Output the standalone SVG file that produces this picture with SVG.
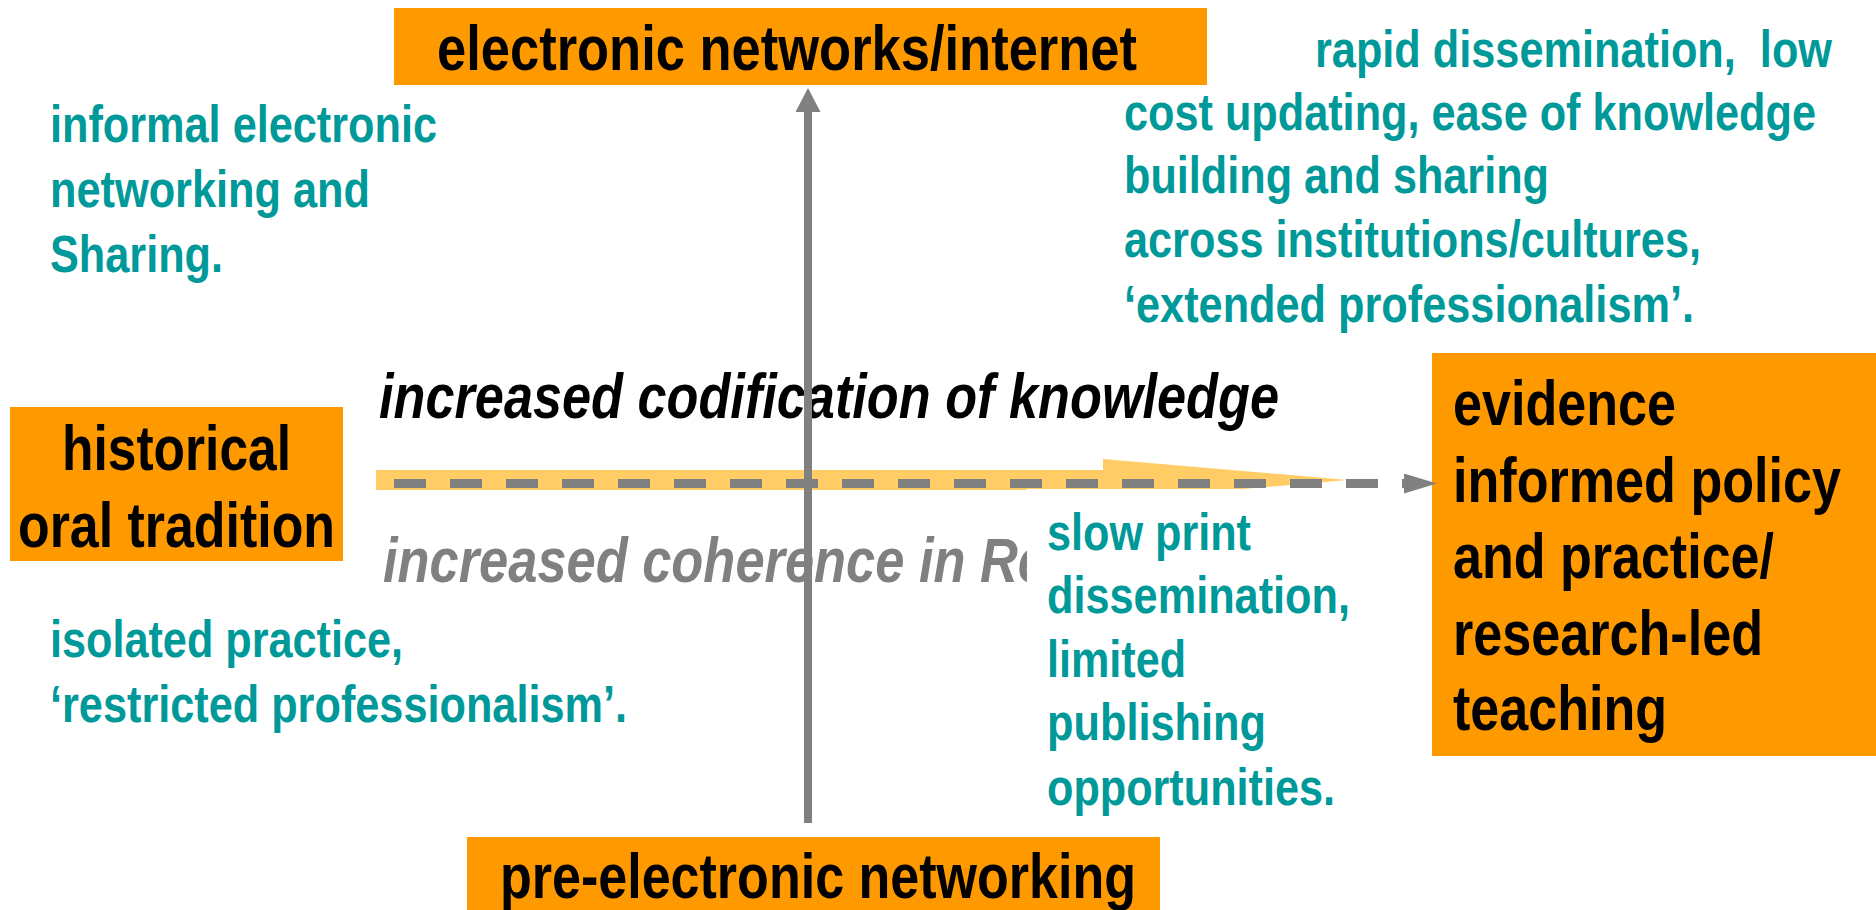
<svg xmlns="http://www.w3.org/2000/svg" width="1876" height="910" viewBox="0 0 1876 910">
  <style>
    .box { fill: #FF9900; }
    .t { font-family: 'Liberation Sans Narrow', 'Liberation Sans', Arial, sans-serif; font-weight: bold; }
    .lbl { font-size: 63px; fill: #000000; }
    .note { font-size: 52px; fill: #009999; }
    .axis { font-size: 63px; font-style: italic; }
    .line { stroke: #808080; fill: none; }
  </style>
  <defs>
    <marker id="headUp" markerUnits="userSpaceOnUse" viewBox="0 0 24 25" refX="0" refY="12.5" markerWidth="24" markerHeight="25" orient="auto">
      <path d="M0,0 L24,12.5 L0,25 Z" fill="#808080"/>
    </marker>
    <marker id="headRight" markerUnits="userSpaceOnUse" viewBox="0 0 33 20" refX="0" refY="10" markerWidth="33" markerHeight="20" orient="auto">
      <path d="M0,0 L33,10 L0,20 Z" fill="#808080"/>
    </marker>
  </defs>

  <rect width="1876" height="910" fill="#ffffff"/>

  <!-- broad trend arrow behind the axes -->
  <polygon id="trend-band" points="376,470 1103,470 1103,459 1348,480 1103,501 1103,490 376,490" fill="#FFCC66"/>

  <!-- axis captions -->
  <g id="axis-codification">
    <text class="t axis" x="379" y="418" fill="#000000" textLength="900" lengthAdjust="spacingAndGlyphs">increased codification of knowledge</text>
  </g>
  <g id="axis-coherence">
    <text class="t axis" x="383" y="582" fill="#808080" textLength="664" lengthAdjust="spacingAndGlyphs">increased coherence in Re</text>
  </g>

  <!-- nodes -->
  <g id="node-internet">
    <rect class="box" x="394" y="8" width="813" height="77"/>
    <text class="t lbl" x="437" y="70" textLength="700" lengthAdjust="spacingAndGlyphs">electronic networks/internet</text>
  </g>
  <g id="node-oral">
    <rect class="box" x="10" y="407" width="333" height="154"/>
    <text class="t lbl" x="62" y="470" textLength="229" lengthAdjust="spacingAndGlyphs">historical</text>
    <text class="t lbl" x="18" y="547" textLength="317" lengthAdjust="spacingAndGlyphs">oral tradition</text>
  </g>
  <g id="node-evidence">
    <rect class="box" x="1432" y="353" width="444" height="403"/>
    <text class="t lbl" x="1453" y="425" textLength="223" lengthAdjust="spacingAndGlyphs">evidence</text>
    <text class="t lbl" x="1453" y="502" textLength="388" lengthAdjust="spacingAndGlyphs">informed policy</text>
    <text class="t lbl" x="1453" y="578" textLength="321" lengthAdjust="spacingAndGlyphs">and practice/</text>
    <text class="t lbl" x="1453" y="655" textLength="310" lengthAdjust="spacingAndGlyphs">research-led</text>
    <text class="t lbl" x="1453" y="730" textLength="214" lengthAdjust="spacingAndGlyphs">teaching</text>
  </g>
  <g id="node-pre-electronic">
    <rect class="box" x="467" y="837" width="693" height="73"/>
    <text class="t lbl" x="500" y="898" textLength="636" lengthAdjust="spacingAndGlyphs">pre-electronic networking</text>
  </g>

  <!-- quadrant notes -->
  <g id="note-informal">
    <text class="t note" x="50" y="142" textLength="387" lengthAdjust="spacingAndGlyphs">informal electronic</text>
    <text class="t note" x="50" y="207" textLength="320" lengthAdjust="spacingAndGlyphs">networking and</text>
    <text class="t note" x="50" y="272" textLength="173" lengthAdjust="spacingAndGlyphs">Sharing.</text>
  </g>
  <g id="note-isolated">
    <text class="t note" x="50" y="657" textLength="353" lengthAdjust="spacingAndGlyphs">isolated practice,</text>
    <text class="t note" x="50" y="722" textLength="577" lengthAdjust="spacingAndGlyphs">‘restricted professionalism’.</text>
  </g>
  <g id="note-rapid">
    <text class="t note" x="1315" y="67" xml:space="preserve" textLength="517" lengthAdjust="spacingAndGlyphs">rapid dissemination,  low</text>
    <text class="t note" x="1124" y="130" textLength="692" lengthAdjust="spacingAndGlyphs">cost updating, ease of knowledge</text>
    <text class="t note" x="1124" y="193" textLength="425" lengthAdjust="spacingAndGlyphs">building and sharing</text>
    <text class="t note" x="1124" y="257" textLength="577" lengthAdjust="spacingAndGlyphs">across institutions/cultures,</text>
    <text class="t note" x="1124" y="322" textLength="570" lengthAdjust="spacingAndGlyphs">‘extended professionalism’.</text>
  </g>
  <g id="note-slow-print">
    <rect x="1027" y="489" width="330" height="340" fill="#ffffff"/>
    <text class="t note" x="1047" y="550" textLength="204" lengthAdjust="spacingAndGlyphs">slow print</text>
    <text class="t note" x="1047" y="613" textLength="303" lengthAdjust="spacingAndGlyphs">dissemination,</text>
    <text class="t note" x="1047" y="677" textLength="139" lengthAdjust="spacingAndGlyphs">limited</text>
    <text class="t note" x="1047" y="740" textLength="219" lengthAdjust="spacingAndGlyphs">publishing</text>
    <text class="t note" x="1047" y="805" textLength="288" lengthAdjust="spacingAndGlyphs">opportunities.</text>
  </g>

  <!-- connectors -->
  <g id="connectors">
    <path class="line" d="M808,823 L808,112" stroke-width="8" marker-end="url(#headUp)"/>
    <path class="line" d="M394,483.5 L1404,483.5" stroke-width="9" stroke-dasharray="32 24" marker-end="url(#headRight)"/>
  </g>
</svg>
